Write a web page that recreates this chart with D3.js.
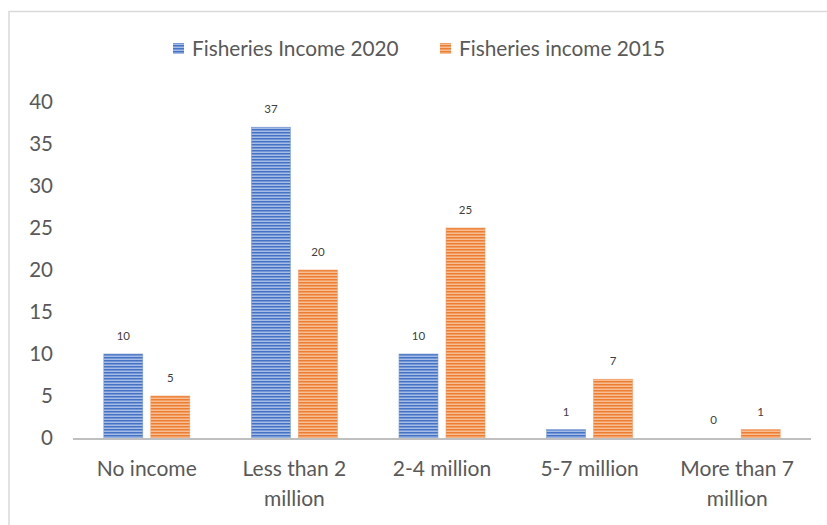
<!DOCTYPE html>
<html><head><meta charset="utf-8">
<script src="https://cdn.jsdelivr.net/npm/d3@7/dist/d3.min.js"></script>
<style>body{margin:0;background:#fff}svg{display:block}</style>
</head><body>
<script>
const categories = [["No income"], ["Less than 2", "million"], ["2-4 million"], ["5-7 million"], ["More than 7", "million"]];
const seriesNames = ["Fisheries Income 2020", "Fisheries income 2015"];
const income2020 = [10, 37, 10, 1, 0];
const income2015 = [5, 20, 25, 7, 1];
const yTicks = [0, 5, 10, 15, 20, 25, 30, 35, 40];

(function () {
const W = 827, H = 525;
const font = "Lato, 'Open Sans', sans-serif";
const svg = d3.select("body").append("svg").attr("width", W).attr("height", H);

const defs = svg.append("defs");
function pat(id, dark, light) {
  const p = defs.append("pattern").attr("id", id).attr("patternUnits", "userSpaceOnUse")
    .attr("width", 6).attr("height", 3);
  p.append("rect").attr("width", 6).attr("height", 3).attr("fill", light);
  p.append("rect").attr("width", 6).attr("height", 1.5).attr("fill", dark);
}
pat("pBlue", "#4472C4", "#a6bce6");
pat("pOrange", "#ED7D31", "#f7bd94");
const fills = ["url(#pBlue)", "url(#pOrange)"];
const strokes = ["#7f9fd8", "#f2a06a"];

// border
svg.append("rect").attr("x", 9).attr("y", 11.5).attr("width", W + 10).attr("height", H + 10)
  .attr("fill", "none").attr("stroke", "#d9d9d9").attr("stroke-width", 1.5);

const mLeft = 73, mRight = 811, mTop = 102, mBottom = 438;
const y = d3.scaleLinear().domain([0, 40]).range([mBottom, mTop]);
const x0 = d3.scaleBand().domain(d3.range(categories.length)).range([mLeft, mRight]);
const barW = 39, gap = 8;

// y tick labels
svg.append("g").selectAll("text").data(yTicks).join("text")
  .attr("x", 53).attr("y", d => y(d)).attr("dy", "0.36em")
  .attr("text-anchor", "end").attr("font-family", font).attr("font-size", 20.5)
  .attr("fill", "#595959").text(d => d);

const series = [income2020, income2015];
series.forEach((vals, s) => {
  const g = svg.append("g");
  const xs = i => x0(i) + x0.bandwidth() / 2 + (s === 0 ? -(gap / 2 + barW) : gap / 2);
  g.selectAll("rect").data(vals).join("rect")
    .attr("x", (d, i) => xs(i)).attr("width", barW)
    .attr("y", d => y(d)).attr("height", d => y(0) - y(d))
    .attr("fill", fills[s]).attr("stroke", d => d > 0 ? strokes[s] : "none").attr("stroke-width", 0.6);
  g.selectAll("text").data(vals).join("text")
    .attr("x", (d, i) => xs(i) + barW / 2).attr("y", d => y(d) - 18).attr("dy", "0.35em")
    .attr("text-anchor", "middle").attr("font-family", font).attr("font-size", 11.5)
    .attr("fill", "#404040").text(d => d);
});

// x axis line
svg.append("line").attr("x1", mLeft).attr("x2", mRight).attr("y1", mBottom + 1).attr("y2", mBottom + 1)
  .attr("stroke", "#bfbfbf").attr("stroke-width", 2);

// x labels
const xl = svg.append("g").selectAll("text").data(categories).join("text")
  .attr("x", (d, i) => x0(i) + x0.bandwidth() / 2).attr("y", 476)
  .attr("text-anchor", "middle").attr("font-family", font).attr("font-size", 21).attr("fill", "#595959");
xl.selectAll("tspan").data(d => d).join("tspan")
  .attr("x", function () { return this.parentNode.getAttribute("x"); })
  .attr("dy", (d, i) => i === 0 ? 0 : 30).text(d => d);

// legend
const legX = [173, 440];
seriesNames.forEach((n, s) => {
  svg.append("rect").attr("x", legX[s]).attr("y", 43).attr("width", 11).attr("height", 11)
    .attr("fill", fills[s]);
  svg.append("text").attr("x", legX[s] + 19).attr("y", 48.5).attr("dy", "0.36em")
    .attr("font-family", font).attr("font-size", 20.8).attr("fill", "#595959").text(n);
});
})();
</script>
</body></html>
